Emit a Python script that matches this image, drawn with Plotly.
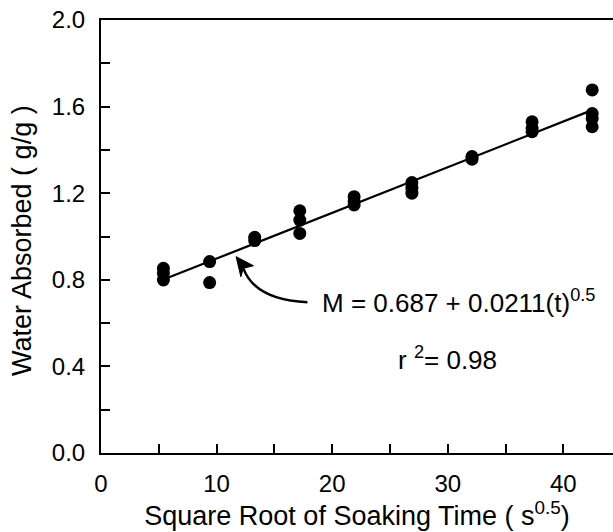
import plotly.graph_objects as go

# ---- data ----
sqrt_time = [5.4, 5.4, 5.4, 9.4, 9.4, 13.3, 13.3, 17.2, 17.2, 17.2,
             21.9, 21.9, 21.9, 26.9, 26.9, 26.9, 32.1, 32.1,
             37.3, 37.3, 37.3, 42.5, 42.5, 42.5, 42.5]
water_abs = [0.853, 0.830, 0.799, 0.884, 0.787, 0.996, 0.981, 1.119, 1.076, 1.014,
             1.184, 1.161, 1.146, 1.249, 1.223, 1.200, 1.369, 1.357,
             1.530, 1.500, 1.484, 1.677, 1.568, 1.545, 1.507]

fit_x = [5.4, 42.6]
fit_y = [0.801, 1.586]

x_tick_vals = [0, 10, 20, 30, 40]
y_tick_vals = [0.0, 0.4, 0.8, 1.2, 1.6, 2.0]
y_tick_text = ["0.0", "0.4", "0.8", "1.2", "1.6", "2.0"]

x_title = "Square Root of Soaking Time ( s<sup>0.5</sup>)"
y_title = "Water Absorbed ( g/g )"
eq_text = "M = 0.687 + 0.0211(t)<sup>0.5</sup>"
r2_text = "r <sup>2</sup>= 0.98"

# arrow geometry in data units
arrow_start = (17.86, 0.696)
arrow_ctrl = (13.33, 0.707)
arrow_tip = (11.69, 0.907)
arrow_arm1 = (13.19, 0.865)
arrow_notch = (12.32, 0.853)
arrow_arm2 = (12.10, 0.814)

FONT = "Liberation Sans, Arial, Helvetica, sans-serif"

fig = go.Figure()
fig.add_trace(go.Scatter(x=fit_x, y=fit_y, mode="lines",
                         line=dict(color="black", width=2.2),
                         showlegend=False, hoverinfo="skip"))
fig.add_trace(go.Scatter(x=sqrt_time, y=water_abs, mode="markers",
                         marker=dict(color="black", size=13, line=dict(width=0)),
                         showlegend=False))

curve = "M {},{} Q {},{} {},{}".format(arrow_start[0], arrow_start[1],
                                       arrow_ctrl[0], arrow_ctrl[1],
                                       arrow_notch[0], arrow_notch[1])
fig.add_shape(type="path", path=curve, xref="x", yref="y",
              line=dict(color="black", width=2.5))
head = "M {},{} L {},{} L {},{} L {},{} Z".format(arrow_tip[0], arrow_tip[1],
                                                  arrow_arm1[0], arrow_arm1[1],
                                                  arrow_notch[0], arrow_notch[1],
                                                  arrow_arm2[0], arrow_arm2[1])
fig.add_shape(type="path", path=head, xref="x", yref="y",
              fillcolor="black", line=dict(color="black", width=1))

fig.add_annotation(x=18.96, y=0.70, xref="x", yref="y", text=eq_text,
                   showarrow=False, xanchor="left", yanchor="middle",
                   font=dict(family=FONT, size=26, color="black"))
fig.add_annotation(x=29.96, y=0.435, xref="x", yref="y", text=r2_text,
                   showarrow=False, xanchor="center", yanchor="middle",
                   font=dict(family=FONT, size=26, color="black"))

# y-axis title placed as a rotated annotation
fig.add_annotation(x=-0.154, y=0.49, xref="paper", yref="paper", text=y_title,
                   textangle=-90, showarrow=False, xanchor="center", yanchor="middle",
                   font=dict(family=FONT, size=27, color="black"))

axis_common = dict(showline=True, linecolor="black", linewidth=2,
                   ticks="inside", ticklen=9, tickwidth=2, tickcolor="black",
                   showgrid=False, zeroline=False,
                   tickfont=dict(family=FONT, size=24, color="black"))

fig.update_xaxes(range=[0, 44.3], tickvals=x_tick_vals, mirror=True,
                 minor=dict(dtick=5, tick0=0, ticks="inside", ticklen=9,
                            tickwidth=2, tickcolor="black"),
                 title=dict(text=x_title,
                            font=dict(family=FONT, size=27, color="black"),
                            standoff=4),
                 ticklabelstandoff=8,
                 **axis_common)
fig.update_yaxes(range=[0, 2.0], tickvals=y_tick_vals, ticktext=y_tick_text,
                 minor=dict(dtick=0.2, tick0=0, ticks="inside", ticklen=9,
                            tickwidth=2, tickcolor="black"),
                 ticklabelstandoff=9,
                 **axis_common)

fig.update_layout(width=613, height=532,
                  margin=dict(l=101, r=0, t=20, b=79),
                  plot_bgcolor="white", paper_bgcolor="white",
                  font=dict(family=FONT, color="black"))

fig.write_html("out.html")
